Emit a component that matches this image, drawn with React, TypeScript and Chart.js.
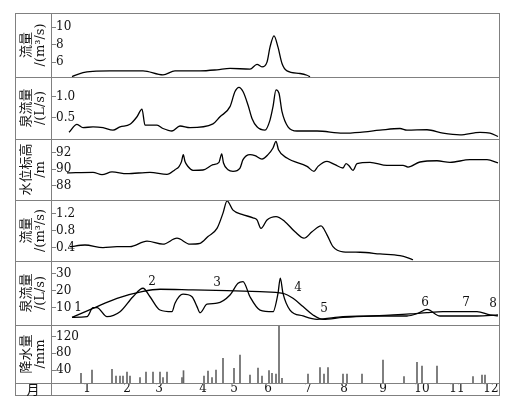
import React, { useEffect, useRef } from 'react';
import { Chart, registerables } from 'chart.js';

Chart.register(...registerables);

// ---------------- data ----------------
const MONTHS = ['1', '2', '3', '4', '5', '6', '7', '8', '9', '10', '11', '12'];
const MONTH_POS = [36, 76, 108, 152, 183, 217, 257, 293, 332, 371, 406, 440];

// panel 1: 流量 (m3/s)
const FLOW1_T = [21, 32, 42, 59, 92, 112, 124, 149, 166, 179, 199, 206, 211, 216, 219, 223, 227, 231, 236, 249, 256, 259];
const FLOW1_V = [4.35, 4.8, 4.95, 5.0, 5.0, 4.55, 5.0, 5.0, 5.12, 5.28, 5.2, 5.75, 5.45, 6.0, 7.7, 9.0, 7.7, 5.85, 5.0, 4.7, 4.5, 4.32];

// panel 2: 泉流量 (L/s)
const SPRING1_T = [18, 26, 32, 42, 52, 62, 69, 79, 86, 91, 94, 106, 112, 121, 129, 139, 162, 169, 179, 184, 188, 192, 197, 201, 206, 214, 219, 222, 225, 228, 231, 237, 246, 266, 292, 309, 329, 349, 356, 376, 392, 409, 429, 439, 447];
const SPRING1_V = [0.16, 0.35, 0.27, 0.29, 0.27, 0.21, 0.29, 0.35, 0.53, 0.71, 0.33, 0.33, 0.25, 0.19, 0.31, 0.27, 0.36, 0.53, 0.77, 1.13, 1.23, 1.13, 0.81, 0.49, 0.29, 0.21, 0.45, 0.77, 1.17, 1.09, 0.65, 0.29, 0.19, 0.19, 0.14, 0.16, 0.21, 0.25, 0.21, 0.22, 0.14, 0.1, 0.16, 0.14, 0.06];

// panel 3: 水位标高 (m)
const LEVEL_T = [16, 42, 51, 61, 76, 99, 116, 124, 128, 130.5, 132.3, 134, 137, 142, 152, 162, 168, 170.7, 172.5, 177, 182, 189, 192, 199, 204, 211, 217, 222, 225, 227.5, 236, 256, 263, 267, 276, 284, 292, 295, 298, 302, 306, 319, 336, 352, 357, 369, 386, 399, 419, 436, 447];
const LEVEL_V = [89.52, 89.6, 89.31, 89.64, 89.43, 89.6, 89.35, 89.92, 90.3, 90.9, 91.74, 90.9, 90.3, 89.84, 89.88, 90.52, 90.81, 91.82, 90.73, 89.92, 89.72, 90.12, 91.13, 91.74, 91.62, 91.21, 91.74, 92.55, 93.36, 92.34, 91.33, 90.32, 89.72, 90.32, 90.93, 90.52, 90.12, 90.65, 90.4, 89.84, 90.65, 90.81, 90.44, 90.44, 90.24, 90.85, 91.0, 90.81, 91.13, 91.13, 90.73];

// panel 4: 流量 (m3/s)
const FLOW2_T = [19, 34, 52, 66, 79, 96, 112, 126, 139, 149, 157, 166, 172, 176, 182, 191, 202, 206, 210, 216, 225, 234, 244, 253, 261, 270, 276, 282, 292, 309, 329, 349, 357, 362];
const FLOW2_V = [0.43, 0.47, 0.41, 0.43, 0.43, 0.56, 0.49, 0.63, 0.49, 0.51, 0.67, 0.86, 1.22, 1.51, 1.29, 1.19, 1.11, 1.06, 0.86, 1.06, 1.14, 1.02, 0.78, 0.63, 0.78, 0.92, 0.71, 0.43, 0.31, 0.3, 0.26, 0.22, 0.17, 0.125];

// panel 5: 泉流量 (L/s), two springs
const SPRING2A_T = [21, 42, 66, 91, 109, 142, 176, 209, 232, 242, 252, 262, 272, 292, 342, 359, 376, 392, 426, 439, 447];
const SPRING2A_V = [4.5, 9.8, 15.7, 19.6, 21, 20.6, 20.2, 19.6, 18.6, 15.7, 10.8, 5.9, 3.3, 4.5, 5.9, 6.5, 7.3, 7.8, 7.8, 5.9, 5.3];
const SPRING2B_T = [21, 36, 42, 46, 56, 69, 82, 92, 99, 109, 121, 124, 132, 141, 146, 149, 156, 166, 179, 187, 192, 199, 209, 222, 227, 229.3, 232, 239, 252, 266, 292, 326, 356, 367, 376, 389, 426, 447];
const SPRING2B_V = [4.5, 4.9, 10.2, 10.2, 4.9, 7.8, 16.6, 21.6, 16.6, 8.8, 7.8, 12.8, 18.1, 16.6, 10.8, 7.2, 12.2, 12.8, 17.6, 24.5, 25.5, 16.6, 8.8, 7.8, 18.6, 27.5, 18.6, 8.8, 5.3, 3.3, 4.9, 5.3, 5.3, 6.9, 9.2, 5.3, 5.3, 5.9];
const SPRING_LABELS = ['1', '2', '3', '4', '5', '6', '7', '8'];
const SPRING_LABEL_T = [27, 101, 166, 247, 273, 374, 415, 442];
const SPRING_LABEL_V = [9.8, 25.5, 24.9, 21.6, 9.2, 13.1, 13.1, 12.7];

// panel 6: 降水量 (mm)
const RAIN_T = [30, 41, 61, 65, 69, 72, 76, 79, 89, 95, 102, 109, 112, 116, 131, 132.5, 153, 157, 161, 165, 172, 183, 189, 199, 207, 211, 218, 221, 225, 228, 231, 257, 269, 273, 277, 292, 296, 311, 332, 353, 366, 371, 386, 422, 431, 434];
const RAIN_V = [32, 40, 41.6, 25.6, 25.6, 25.6, 35.2, 25.6, 21.6, 35.2, 35.2, 35.2, 21.6, 35.2, 21.6, 38.4, 25.6, 37.6, 21.6, 40, 68, 44, 76, 28, 44.8, 25.6, 38.4, 32, 30.4, 152, 20, 30.4, 45.6, 30.4, 45.6, 30.4, 30.4, 30.4, 64, 24, 58.4, 49.6, 49.6, 24, 28, 28];

const PANEL_TITLES = [
  ['流量', '/(m³/s)'],
  ['泉流量', '/(L/s)'],
  ['水位标高', '/m'],
  ['流量', '/(m³/s)'],
  ['泉流量', '/(L/s)'],
  ['降水量', '/mm'],
];
const PANEL_TICKS = [[6, 8, 10], [0.5, 1.0], [88, 90, 92], [0.4, 0.8, 1.2], [10, 20, 30], [40, 80, 120]];
const PANEL_MIN = [4.3, 0, 86.24, 0.094, 0, 8.8];
const PANEL_MAX = [11.6, 1.476, 93.64, 1.529, 37.6, 148];
const PANEL_DECIMALS = [0, 1, 0, 1, 0, 0];

// ---------------- styling ----------------
const SERIF = "'DejaVu Serif', 'Liberation Serif', serif";
const TITLE_FAMILY = "'DejaVu Serif', 'Noto Sans CJK SC', sans-serif";
const FRAME = '#808080';
const PANEL_HEIGHTS = [64, 62, 61, 61, 64, 58];
const PAD = { left: 15, top: 13, right: 16, bottom: 1 };
const LABEL_COL = 36;
const MONTH_ROW = 13;
const IDS = ['y1', 'y2', 'y3', 'y4', 'y5', 'y6'];

function makeY(i: number) {
  const ticks = PANEL_TICKS[i];
  return {
    type: 'linear',
    position: 'left',
    stack: 'panels',
    stackWeight: PANEL_HEIGHTS[i],
    weight: 10 - i,
    min: PANEL_MIN[i],
    max: PANEL_MAX[i],
    afterBuildTicks: (s: any) => {
      s.ticks = ticks.map((v) => ({ value: v }));
    },
    afterFit: (s: any) => {
      s.width = LABEL_COL;
    },
    border: { display: false },
    grid: { drawOnChartArea: false, drawTicks: true, tickLength: -5, color: FRAME, lineWidth: 1 },
    ticks: {
      mirror: true,
      padding: 5,
      color: '#111',
      font: { family: SERIF, size: 12, lineHeight: 1 },
      callback: (v: number) => Number(v).toFixed(PANEL_DECIMALS[i]),
    },
    title: {
      display: true,
      text: PANEL_TITLES[i],
      color: '#111',
      font: { family: TITLE_FAMILY, size: 13, lineHeight: 1.12 },
      padding: { top: 4, bottom: 0 },
    },
  };
}

function lineSet(ts: number[], vs: number[], yAxisID: string) {
  return {
    type: 'line',
    data: ts.map((t, i) => ({ x: t, y: vs[i] })),
    yAxisID,
    xAxisID: 'x',
    borderColor: '#000',
    borderWidth: 1.3,
    pointRadius: 0,
    fill: false,
    cubicInterpolationMode: 'monotone',
  };
}

const framePlugin = {
  id: 'frame',
  afterDraw(chart: any) {
    const { ctx, chartArea, scales } = chart;
    const a = (v: number) => Math.round(v) + 0.5;
    const left = a(PAD.left);
    const right = a(chartArea.right);
    const top = a(chartArea.top);
    const bottom = a(scales.x.bottom) - 1;
    ctx.save();
    ctx.strokeStyle = FRAME;
    ctx.lineWidth = 1;
    ctx.strokeRect(left, top, right - left, bottom - top);
    ctx.beginPath();
    IDS.forEach((id) => {
      const y = a(scales[id].bottom);
      ctx.moveTo(left, y);
      ctx.lineTo(right, y);
    });
    const xl = a(chartArea.left);
    ctx.moveTo(xl, top);
    ctx.lineTo(xl, bottom);
    ctx.stroke();

    // month row label
    ctx.fillStyle = '#111';
    ctx.font = "13px 'Noto Sans CJK SC', sans-serif";
    ctx.textAlign = 'center';
    ctx.textBaseline = 'middle';
    ctx.fillText('月', (PAD.left + chartArea.left) / 2, (chartArea.bottom + bottom) / 2);

    // spring labels in panel 5
    ctx.font = `12px ${SERIF}`;
    const xs = scales.x;
    const ys = scales.y5;
    SPRING_LABELS.forEach((txt, i) => {
      ctx.fillText(txt, xs.getPixelForValue(SPRING_LABEL_T[i]), ys.getPixelForValue(SPRING_LABEL_V[i]));
    });
    ctx.restore();
  },
};

export default function App() {
  const ref = useRef<HTMLCanvasElement>(null);
  useEffect(() => {
    const canvas = ref.current;
    if (!canvas) return;
    const scales: any = {
      x: {
        type: 'linear',
        position: 'bottom',
        min: 0,
        max: 448,
        offset: false,
        afterBuildTicks: (s: any) => {
          s.ticks = MONTH_POS.map((v) => ({ value: v }));
        },
        afterFit: (s: any) => {
          s.height = MONTH_ROW;
        },
        grid: { display: false, drawTicks: false },
        border: { display: false },
        ticks: {
          autoSkip: false,
          maxRotation: 0,
          padding: 0,
          color: '#111',
          font: { family: SERIF, size: 12, lineHeight: 1 },
          callback: (_v: number, i: number) => MONTHS[i],
        },
      },
    };
    IDS.forEach((id, i) => {
      scales[id] = makeY(i);
    });
    const chart = new Chart(canvas, {
      type: 'line',
      data: {
        datasets: [
          lineSet(FLOW1_T, FLOW1_V, 'y1'),
          lineSet(SPRING1_T, SPRING1_V, 'y2'),
          lineSet(LEVEL_T, LEVEL_V, 'y3'),
          lineSet(FLOW2_T, FLOW2_V, 'y4'),
          lineSet(SPRING2A_T, SPRING2A_V, 'y5'),
          lineSet(SPRING2B_T, SPRING2B_V, 'y5'),
          {
            type: 'bar',
            data: RAIN_T.map((t, i) => ({ x: t, y: RAIN_V[i] })),
            yAxisID: 'y6',
            xAxisID: 'x',
            backgroundColor: '#666',
            borderWidth: 0,
            barThickness: 1,
            grouped: false,
          },
        ] as any,
      },
      options: {
        animation: false,
        responsive: false,
        maintainAspectRatio: false,
        layout: { padding: PAD },
        plugins: { legend: { display: false }, tooltip: { enabled: false } },
        scales,
      } as any,
      plugins: [framePlugin],
    });
    return () => chart.destroy();
  }, []);
  return (
    <div style={{ position: 'fixed', left: 0, top: 0, width: 515, height: 397, background: '#fff' }}>
      <canvas ref={ref} width={515} height={397} style={{ display: 'block', width: 515, height: 397 }} />
    </div>
  );
}
